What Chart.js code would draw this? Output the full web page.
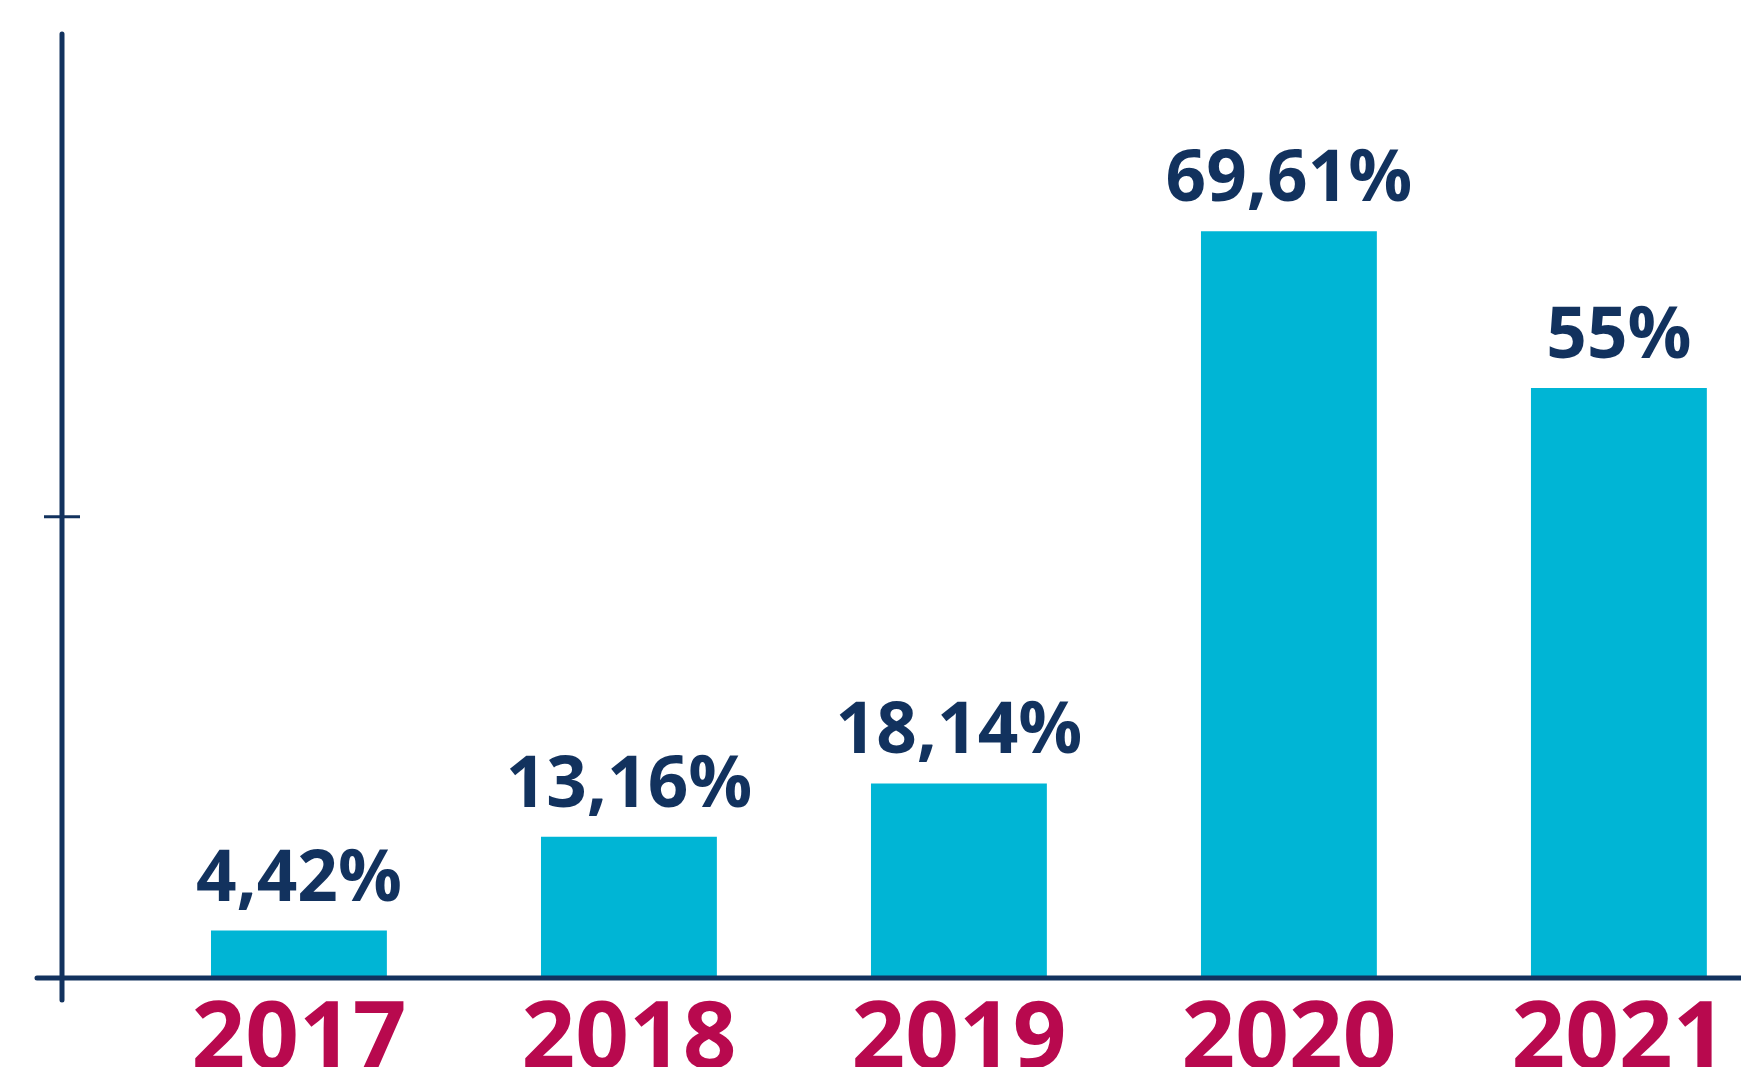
<!DOCTYPE html>
<html lang="en">
<head>
<meta charset="UTF-8" />
<title>Share by year</title>
<script src="https://cdn.jsdelivr.net/npm/chart.js@4"></script>
<style>
  * { margin: 0; padding: 0; box-sizing: border-box; }
  body { background: #fff; overflow: hidden; }
  canvas { display: block; }
</style>
</head>
<body>
<canvas id="shareChart" width="1741" height="1067"></canvas>
<script>
const years = ["2017", "2018", "2019", "2020", "2021"];
const shares = [4.42, 13.16, 18.14, 69.61, 55];
const yTicks = [0, 43, 88];

const NAVY = "#12325e";
const CYAN = "#00b5d5";
const CRIMSON = "#b8094e";

const fmt = (v) => String(v).replace(".", ",") + "%";

// axes with overhanging ends, a cross tick on the y axis, and value labels
const axisAndLabels = {
    id: "axisAndLabels",
    afterDatasetsDraw(chart) {
        const { ctx, chartArea, scales } = chart;
        const x0 = chartArea.left;
        const y0 = scales.y.getPixelForValue(0);
        ctx.save();
        ctx.strokeStyle = NAVY;
        ctx.lineCap = "round";
        ctx.lineWidth = 5;
        ctx.beginPath();
        ctx.moveTo(x0, chartArea.top);
        ctx.lineTo(x0, y0 + 22);
        ctx.moveTo(x0 - 25, y0);
        ctx.lineTo(chartArea.right + 10, y0);
        ctx.stroke();

        ctx.lineCap = "butt";
        ctx.lineWidth = 3;
        yTicks
            .filter((t) => t > scales.y.min && t < scales.y.max)
            .forEach((t) => {
                const py = scales.y.getPixelForValue(t);
                ctx.beginPath();
                ctx.moveTo(x0 - 18, py);
                ctx.lineTo(x0 + 18, py);
                ctx.stroke();
            });

        ctx.fillStyle = NAVY;
        ctx.font = "700 71px 'Open Sans'";
        ctx.textAlign = "center";
        ctx.textBaseline = "alphabetic";
        chart.getDatasetMeta(0).data.forEach((bar, i) => {
            ctx.fillText(fmt(shares[i]), bar.x, bar.y - 30);
        });
        ctx.restore();
    },
};

const ctx = document.getElementById("shareChart").getContext("2d");
new Chart(ctx, {
    type: "bar",
    data: {
        datasets: [
            {
                data: shares.map((v, i) => ({ x: i, y: v })),
                backgroundColor: CYAN,
                categoryPercentage: 1,
                barPercentage: 0.533,
            },
        ],
    },
    options: {
        responsive: false,
        animation: false,
        layout: { padding: { top: 34, left: 62, right: 0, bottom: 0 } },
        plugins: {
            legend: { display: false },
            tooltip: { enabled: false },
        },
        scales: {
            x: {
                type: "linear",
                offset: false,
                min: -0.718,
                max: 4.37,
                grid: { display: false, drawTicks: false },
                border: { display: false },
                afterBuildTicks: (scale) => {
                    scale.ticks = years.map((_, i) => ({ value: i }));
                },
                afterFit: (scale) => {
                    scale.height = 89;
                },
                ticks: {
                    autoSkip: false,
                    maxRotation: 0,
                    padding: 12,
                    color: CRIMSON,
                    font: { family: "'Open Sans'", size: 94, weight: "700", lineHeight: 1.1 },
                    callback: (value) => years[value],
                },
            },
            y: {
                display: false,
                min: 0,
                max: 88,
            },
        },
    },
    plugins: [axisAndLabels],
});
</script>
</body>
</html>
